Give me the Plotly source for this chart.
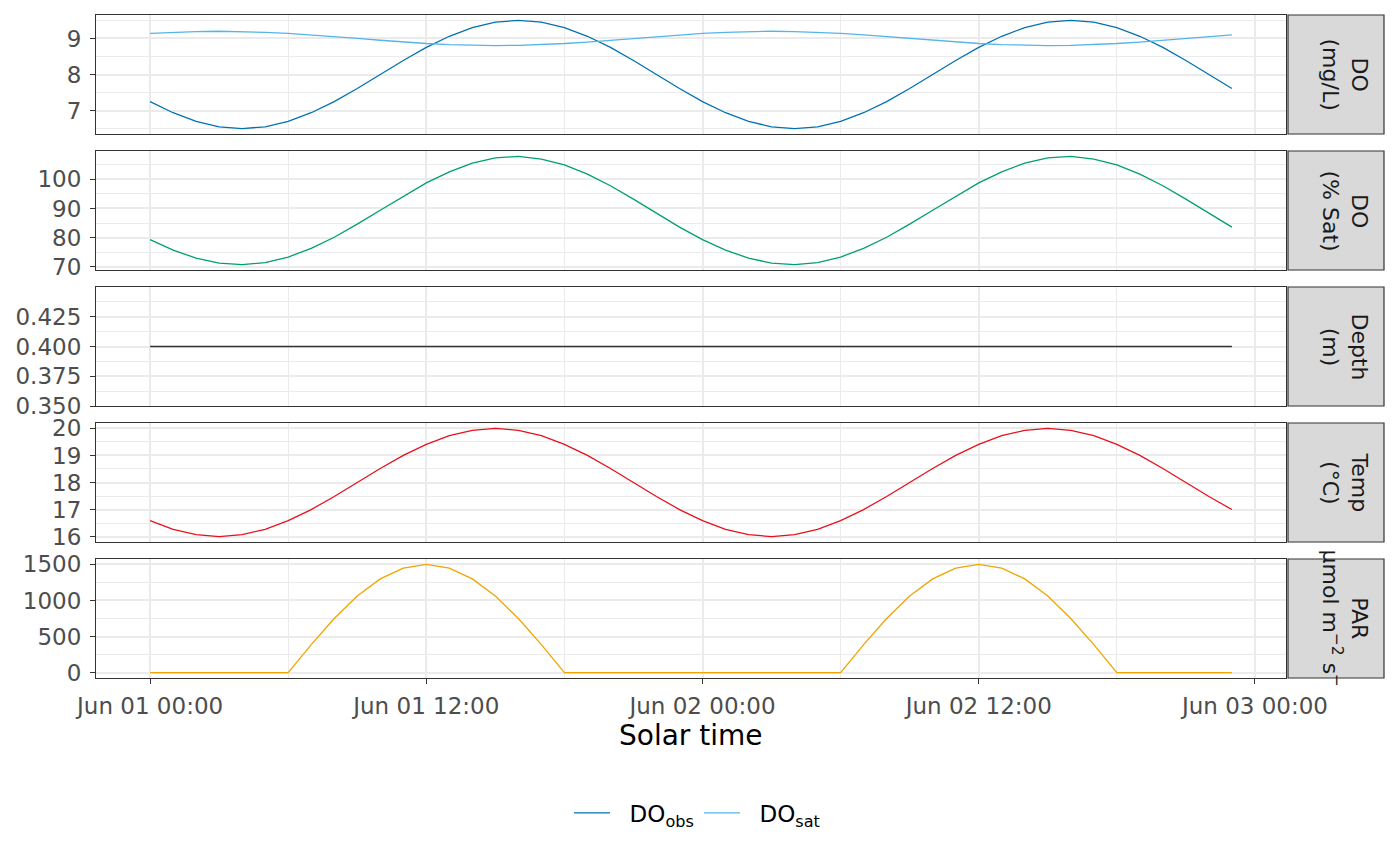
import pandas as pd
import plotly.graph_objects as go

# ---------------- data (hourly) ----------------
time = pd.date_range("2024-06-01 00:00", periods=48, freq="h")

do_obs = [7.25, 6.94, 6.70, 6.55, 6.50, 6.55, 6.70, 6.94, 7.25, 7.61, 8.00, 8.39,
          8.75, 9.06, 9.30, 9.45, 9.50, 9.45, 9.30, 9.06, 8.75, 8.39, 8.00, 7.61,
          7.25, 6.94, 6.70, 6.55, 6.50, 6.55, 6.70, 6.94, 7.25, 7.61, 8.00, 8.39,
          8.75, 9.06, 9.30, 9.45, 9.50, 9.45, 9.30, 9.06, 8.75, 8.39, 8.00, 7.61]

do_sat = [9.14, 9.17, 9.19, 9.20, 9.19, 9.17, 9.14, 9.10, 9.05, 9.00, 8.95, 8.90,
          8.86, 8.83, 8.81, 8.80, 8.81, 8.83, 8.86, 8.90, 8.95, 9.00, 9.05, 9.10,
          9.14, 9.17, 9.19, 9.20, 9.19, 9.17, 9.14, 9.10, 9.05, 9.00, 8.95, 8.90,
          8.86, 8.83, 8.81, 8.80, 8.81, 8.83, 8.86, 8.90, 8.95, 9.00, 9.05, 9.10]

do_pct = [79.3, 75.7, 72.9, 71.2, 70.7, 71.4, 73.3, 76.3, 80.1, 84.6, 89.4, 94.2,
          98.8, 102.6, 105.6, 107.4, 107.9, 107.0, 105.0, 101.8, 97.8, 93.2, 88.4, 83.6,
          79.3, 75.7, 72.9, 71.2, 70.7, 71.4, 73.3, 76.3, 80.1, 84.6, 89.4, 94.2,
          98.8, 102.6, 105.6, 107.4, 107.9, 107.0, 105.0, 101.8, 97.8, 93.2, 88.4, 83.6]

depth = [0.4] * 48

temp = [16.59, 16.27, 16.07, 16.00, 16.07, 16.27, 16.59, 17.00, 17.48, 18.00, 18.52, 19.00,
        19.41, 19.73, 19.93, 20.00, 19.93, 19.73, 19.41, 19.00, 18.52, 18.00, 17.48, 17.00,
        16.59, 16.27, 16.07, 16.00, 16.07, 16.27, 16.59, 17.00, 17.48, 18.00, 18.52, 19.00,
        19.41, 19.73, 19.93, 20.00, 19.93, 19.73, 19.41, 19.00, 18.52, 18.00, 17.48, 17.00]

par = [0, 0, 0, 0, 0, 0, 0, 388, 750, 1061, 1299, 1449,
       1500, 1449, 1299, 1061, 750, 388, 0, 0, 0, 0, 0, 0,
       0, 0, 0, 0, 0, 0, 0, 388, 750, 1061, 1299, 1449,
       1500, 1449, 1299, 1061, 750, 388, 0, 0, 0, 0, 0, 0]

strip_labels = ["DO<br>(mg/L)", "DO<br>(% Sat)", "Depth<br>(m)", "Temp<br>(°C)",
                "PAR<br>µmol m<sup>−2</sup> s<sup>−</sup>"]
x_title = "Solar time"

# ---------------- styling ----------------
W, H = 1400, 866
OFF = 8  # page body margin in the browser
FONT = "DejaVu Sans"
FS = 23
TICK_COL = "#4D4D4D"
LINE_COL = "#333333"
GRID = "#EBEBEB"
C_OBS, C_SAT, C_PCT, C_DEP, C_TMP, C_PAR = "#0072B2", "#56B4E9", "#009E73", "#333333", "#E8101C", "#F0A500"

x_left, x_right = 96, 1286
panels_px = [(15, 134), (151, 270), (287, 406), (423, 542), (559, 678)]
strip_l, strip_r = 1288, 1384


def px_x(p):
    return (p - OFF) / W


def px_y(p):
    return 1 - (p - OFF) / H


def expand(lo, hi, f=0.05):
    d = hi - lo
    return [lo - f * d, hi + f * d]


t0, t1 = time[0], time[-1]
span = t1 - t0
xrange = [t0 - 0.05 * span, t1 + 0.05 * span]

fig = go.Figure()
lw = 1.3
NB = "\u00a0\u00a0"
fig.add_trace(go.Scatter(x=time, y=do_obs, mode="lines", line=dict(color=C_OBS, width=lw),
                         name=NB + "DO<sub>obs</sub>", xaxis="x", yaxis="y"))
fig.add_trace(go.Scatter(x=time, y=do_sat, mode="lines", line=dict(color=C_SAT, width=lw),
                         name=NB + "DO<sub>sat</sub>", xaxis="x", yaxis="y"))
fig.add_trace(go.Scatter(x=time, y=do_pct, mode="lines", line=dict(color=C_PCT, width=lw),
                         showlegend=False, xaxis="x2", yaxis="y2"))
fig.add_trace(go.Scatter(x=time, y=depth, mode="lines", line=dict(color=C_DEP, width=lw),
                         showlegend=False, xaxis="x3", yaxis="y3"))
fig.add_trace(go.Scatter(x=time, y=temp, mode="lines", line=dict(color=C_TMP, width=lw),
                         showlegend=False, xaxis="x4", yaxis="y4"))
fig.add_trace(go.Scatter(x=time, y=par, mode="lines", line=dict(color=C_PAR, width=lw),
                         showlegend=False, xaxis="x5", yaxis="y5"))

yranges = [
    expand(min(do_obs + do_sat), max(do_obs + do_sat)),
    expand(min(do_pct), max(do_pct)),
    [0.35, 0.45],
    expand(min(temp), max(temp)),
    expand(min(par), max(par)),
]
ytick = [
    dict(tickvals=[7, 8, 9], minor_dtick=0.5),
    dict(tickvals=[70, 80, 90, 100], minor_dtick=5),
    dict(tickvals=[0.35, 0.375, 0.4, 0.425], minor_dtick=0.0125, tickformat=".3f"),
    dict(tickvals=[16, 17, 18, 19, 20], minor_dtick=0.5),
    dict(tickvals=[0, 500, 1000, 1500], minor_dtick=250),
]

layout = dict(
    width=W, height=H,
    template="none",
    margin=dict(l=0, r=0, t=0, b=0, autoexpand=False),
    paper_bgcolor="white", plot_bgcolor="white",
    font=dict(family=FONT, size=FS, color=TICK_COL),
    showlegend=True,
    legend=dict(orientation="h", x=px_x(697), xanchor="center", y=px_y(813), yanchor="middle",
                font=dict(family=FONT, size=FS, color="#000000"), itemwidth=36,
                bgcolor="rgba(0,0,0,0)"),
)

for i, (top, bot) in enumerate(panels_px):
    n = "" if i == 0 else str(i + 1)
    ydom = [px_y(bot), px_y(top)]
    xa = dict(
        type="date", domain=[px_x(x_left), px_x(x_right)], range=xrange,
        anchor="y" + n, automargin=False,
        showline=True, mirror=True, linecolor=LINE_COL, linewidth=1.2,
        showgrid=True, gridcolor=GRID, gridwidth=1.6,
        tick0="2024-06-01", dtick=12 * 3600 * 1000,
        minor=dict(dtick=6 * 3600 * 1000, tick0="2024-06-01", showgrid=True,
                   gridcolor=GRID, gridwidth=0.8, ticks=""),
        zeroline=False, fixedrange=True,
    )
    if i < 4:
        xa.update(showticklabels=False, ticks="")
    else:
        xa.update(showticklabels=True, ticks="outside", ticklen=5, tickwidth=1.3, tickcolor=LINE_COL,
                  tickformat="%b %d %H:%M", tickfont=dict(family=FONT, size=FS, color=TICK_COL),
                  ticklabelstandoff=2)
    if i > 0:
        xa["matches"] = "x"
    ya = dict(
        domain=ydom, range=yranges[i], anchor="x" + n, automargin=False,
        showline=True, mirror=True, linecolor=LINE_COL, linewidth=1.2,
        showgrid=True, gridcolor=GRID, gridwidth=1.6,
        ticks="outside", ticklen=5, tickwidth=1.3, tickcolor=LINE_COL,
        tickvals=ytick[i]["tickvals"],
        tickfont=dict(family=FONT, size=FS, color=TICK_COL),
        ticklabelstandoff=4,
        minor=dict(dtick=ytick[i]["minor_dtick"], tick0=0, showgrid=True,
                   gridcolor=GRID, gridwidth=0.8, ticks=""),
        zeroline=False, fixedrange=True,
    )
    if "tickformat" in ytick[i]:
        ya["tickformat"] = ytick[i]["tickformat"]
    layout["xaxis" + n] = xa
    layout["yaxis" + n] = ya

fig.update_layout(**layout)

# x-axis title
fig.add_annotation(xref="paper", yref="paper", x=px_x(691), y=px_y(735), text=x_title,
                   showarrow=False, xanchor="center", yanchor="middle",
                   font=dict(family=FONT, size=28, color="#000000"))

# strips
for i, (top, bot) in enumerate(panels_px):
    fig.add_shape(type="rect", xref="paper", yref="paper",
                  x0=px_x(strip_l), x1=px_x(strip_r), y0=px_y(bot), y1=px_y(top),
                  fillcolor="#D9D9D9", line=dict(color=LINE_COL, width=1.2), layer="below")
    yc = px_y((top + bot) / 2)
    fig.add_annotation(xref="paper", yref="paper", x=px_x(1345), y=yc, text=strip_labels[i],
                       textangle=90, showarrow=False, xanchor="center", yanchor="middle",
                       align="center",
                       font=dict(family=FONT, size=22, color="#1A1A1A"))

fig.write_html("out.html")
